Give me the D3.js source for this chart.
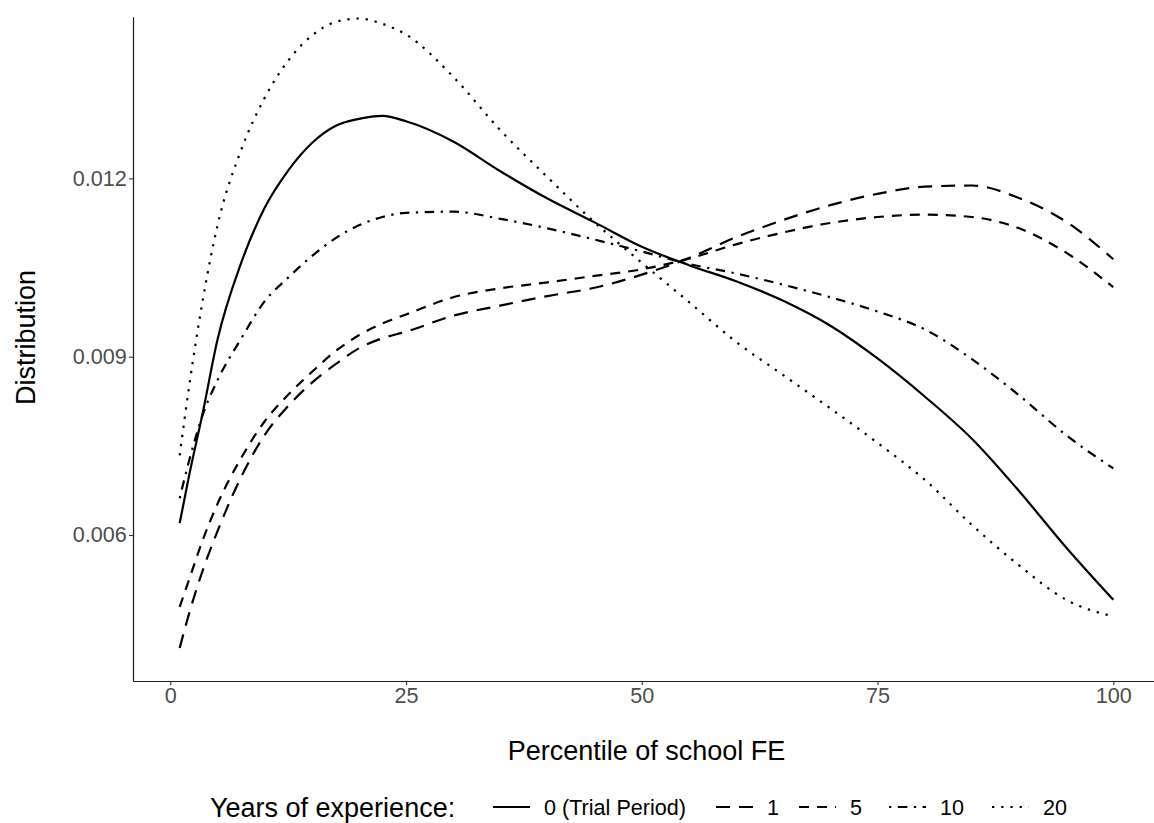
<!DOCTYPE html>
<html lang="en">
<head>
    <meta charset="UTF-8">
    <title>Distribution by percentile of school FE</title>
    <script src="https://d3js.org/d3.v7.min.js"></script>
    <style>
        body { margin: 0; background: #fff; }
        svg { display: block; font-family: "Liberation Sans", Arial, sans-serif; }
    </style>
</head>
<body>
<script>
    // percentile grid (x) and one density series per experience group
    const pct = [1, 2, 3.5, 5, 7.5, 10, 12.5, 15, 17.5, 20, 22.5, 25, 30, 35, 40, 45, 50,
                 55, 60, 65, 70, 75, 80, 85, 90, 95, 100];
    const trial = [0.00620, 0.00700, 0.00810, 0.00928, 0.01057, 0.01150, 0.01213, 0.01259, 0.01288,
                   0.01300, 0.01305, 0.01296, 0.01262, 0.01212, 0.01166, 0.01126, 0.01085,
                   0.01054, 0.01027, 0.00994, 0.00952, 0.00897, 0.00833, 0.00762, 0.00674, 0.00579, 0.00491];
    const exp1 = [0.00410, 0.00468, 0.00543, 0.00606, 0.00697, 0.00768, 0.00817, 0.00856, 0.00887,
                  0.00914, 0.00931, 0.00942, 0.00969, 0.00986, 0.01002, 0.01016, 0.01038,
                  0.01066, 0.01101, 0.01130, 0.01155, 0.01174, 0.01186, 0.01188, 0.01167, 0.01127, 0.01064];
    const exp5 = [0.00479, 0.00525, 0.00594, 0.00652, 0.00729, 0.00791, 0.00836, 0.00874, 0.00909,
                  0.00936, 0.00956, 0.00971, 0.01000, 0.01015, 0.01025, 0.01036, 0.01047,
                  0.01065, 0.01089, 0.01109, 0.01125, 0.01135, 0.01139, 0.01135, 0.01116, 0.01075, 0.01017];
    const exp10 = [0.00662, 0.00725, 0.00805, 0.00860, 0.00930, 0.00993, 0.01033, 0.01069, 0.01099,
                   0.01121, 0.01135, 0.01142, 0.01144, 0.01132, 0.01116, 0.01097, 0.01077,
                   0.01056, 0.01040, 0.01021, 0.01000, 0.00976, 0.00946, 0.00896, 0.00835, 0.00768, 0.00712];
    const exp20 = [0.00734, 0.00850, 0.01000, 0.01120, 0.01247, 0.01335, 0.01398, 0.01440, 0.01463,
                   0.01469, 0.01460, 0.01442, 0.01371, 0.01281, 0.01202, 0.01126, 0.01058,
                   0.00992, 0.00925, 0.00869, 0.00813, 0.00755, 0.00693, 0.00617, 0.00549, 0.00491, 0.00463];

    const groups = ["0 (Trial Period)", "1", "5", "10", "20"];
    const seriesValues = [trial, exp1, exp5, exp10, exp20];
    const xTicks = [0, 25, 50, 75, 100];
    const yTicks = [0.006, 0.009, 0.012];

    // linetypes: solid, longdash, dashed, dotdash, dotted
    const dashes = [null, "14,9", "10,8", "2.3,6.5,9.5,6.5", "2.3,6.9"];

    const width = 1154, height = 823;
    const svg = d3.select("body").append("svg")
        .attr("width", width)
        .attr("height", height);

    const x = d3.scaleLinear().domain([-3.95, 104.95]).range([133, 1160]);
    const y = d3.scaleLinear().domain([0.003544, 0.01472]).range([681, 16.7]);

    const series = seriesValues.map((vals, i) => ({
        name: groups[i],
        dash: dashes[i],
        points: pct.map((p, j) => ({ x: p, y: vals[j] }))
    }));

    // axes (theme_classic: axis lines, no grid)
    const xAxis = svg.append("g")
        .attr("transform", "translate(0,681)")
        .call(d3.axisBottom(x).tickValues(xTicks).tickSize(4).tickSizeOuter(0).tickPadding(2.5));
    const yAxis = svg.append("g")
        .attr("transform", "translate(133,0)")
        .call(d3.axisLeft(y).tickValues(yTicks).tickFormat(d3.format(".3f"))
            .tickSize(4).tickSizeOuter(0).tickPadding(2.3));

    [xAxis, yAxis].forEach(a => {
        a.select(".domain").attr("stroke", "#1a1a1a").attr("stroke-width", 1.2);
        a.selectAll(".tick line").attr("stroke", "#333").attr("stroke-width", 1.1);
        a.selectAll(".tick text")
         .attr("fill", "#4d4d4d")
         .attr("font-size", 21.6)
         .attr("font-family", "Liberation Sans, Arial, sans-serif");
    });

    // density lines
    const line = d3.line()
        .x(d => x(d.x))
        .y(d => y(d.y))
        .curve(d3.curveMonotoneX);

    svg.append("g").selectAll("path")
        .data(series)
        .join("path")
        .attr("d", d => line(d.points))
        .attr("fill", "none")
        .attr("stroke", "#000")
        .attr("stroke-width", 2.2)
        .attr("stroke-dasharray", d => d.dash);

    // axis titles
    svg.append("text")
        .attr("x", 646.5)
        .attr("y", 760)
        .attr("text-anchor", "middle")
        .attr("font-size", 27)
        .attr("fill", "#000")
        .text("Percentile of school FE");

    svg.append("text")
        .attr("transform", "translate(35,337.5) rotate(-90)")
        .attr("text-anchor", "middle")
        .attr("font-size", 27)
        .attr("fill", "#000")
        .text("Distribution");

    // legend at the bottom
    const legendY = 807;
    const keyStart = [493, 716, 799, 889, 992];
    const legend = svg.append("g");

    legend.append("text")
        .attr("x", 210)
        .attr("y", legendY)
        .attr("dy", "0.36em")
        .attr("font-size", 27)
        .attr("fill", "#000")
        .text("Years of experience:");

    const item = legend.selectAll("g.item")
        .data(series)
        .join("g")
        .attr("class", "item")
        .attr("transform", (d, i) => `translate(${keyStart[i]},${legendY})`);

    item.append("line")
        .attr("x1", 0).attr("x2", 37)
        .attr("y1", 0).attr("y2", 0)
        .attr("stroke", "#000")
        .attr("stroke-width", 2.2)
        .attr("stroke-dasharray", d => d.dash);

    item.append("text")
        .attr("x", 51)
        .attr("dy", "0.36em")
        .attr("font-size", 21.6)
        .attr("fill", "#000")
        .text(d => d.name);
</script>
</body>
</html>
